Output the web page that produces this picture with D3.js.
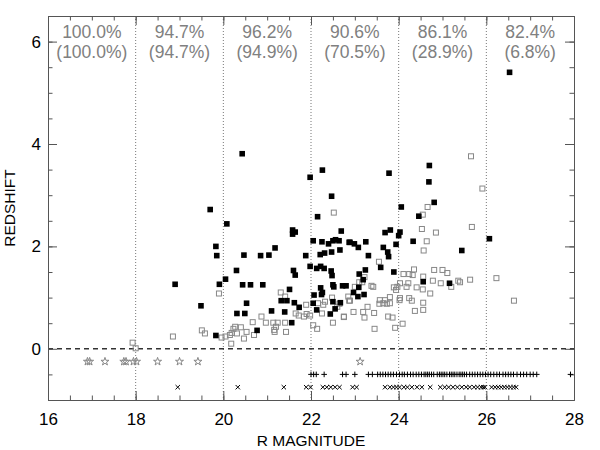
<!DOCTYPE html>
<meta charset="utf-8">
<style>
body { margin: 0; background: #fff; }
svg { font-family: "Liberation Sans", Arial, Helvetica, sans-serif; }
.axis path, .axis line { stroke: #555; }
.axis text { fill: #000; font-size: 17px; }
.pct { fill: #808080; font-size: 17.5px; }
.grid { stroke: #777; stroke-dasharray: 1,2; }
.zero { stroke: #333; stroke-width: 1.5; stroke-dasharray: 5,4; }
.spec { fill: #000; }
.phot { fill: none; stroke: #888; }
.star { fill: none; stroke: #888; }
.plus, .cross { fill: none; stroke: #000; }
</style>
<body>
<svg id="chart" width="600" height="450"></svg>

<script src="https://cdnjs.cloudflare.com/ajax/libs/d3/7.8.5/d3.min.js"></script>
<script>

// bin edges and completeness labels
var bins = [16, 18, 20, 22, 24, 26, 28];
var pctAll = ["100.0%", "94.7%", "96.2%", "90.6%", "86.1%", "82.4%"];
var pctSpec = ["(100.0%)", "(94.7%)", "(94.9%)", "(70.5%)", "(28.9%)", "(6.8%)"];

// spectroscopic redshifts (filled squares)
var specZ = [
  [20.43,3.81],[19.70,2.72],[20.08,2.44],[19.83,2.00],[19.85,1.82],[20.47,1.83],[20.85,1.82],[21.04,1.83],
  [21.18,1.97],[21.58,2.32],[21.64,2.28],[21.58,2.24],[21.88,1.82],[21.98,3.35],[22.26,3.49],[22.47,2.98],
  [22.15,2.58],[22.69,2.30],[22.05,2.11],[22.25,2.09],[22.40,2.05],[22.50,2.11],[22.56,2.13],[22.64,2.11],
  [22.87,2.08],[22.66,1.93],[22.47,1.89],[22.31,1.87],[22.21,1.84],
  [18.90,1.26],[19.91,1.26],[20.05,1.36],[20.30,1.53],[20.44,1.25],[20.62,1.25],[20.90,1.25],[21.60,1.53],
  [21.64,1.44],[21.51,1.16],[21.32,0.94],[21.45,0.94],[21.62,0.90],[21.73,0.81],[20.53,0.89],[20.31,0.69],
  [20.49,0.69],[19.49,0.84],[21.10,0.74],[21.40,0.72],[21.56,0.51],[20.77,0.36],[19.83,0.26],[21.98,1.61],
  [22.13,1.57],[22.22,1.61],[22.30,1.57],[22.46,1.52],[22.48,1.43],[22.22,1.19],[22.26,1.10],[22.24,1.06],
  [22.07,1.05],[22.50,1.25],[22.52,1.21],[22.72,1.23],[22.50,0.92],[22.67,0.90],[22.05,0.89],[22.13,0.76],
  [22.44,0.68],[22.55,0.78],
  [23.78,3.43],[24.70,3.58],[24.69,3.26],[24.81,2.86],[24.06,2.77],[24.46,2.59],[23.81,2.32],[23.69,2.27],
  [24.03,2.28],[24.00,2.21],[23.25,2.09],[22.89,2.08],[22.99,2.05],[23.08,1.98],[23.94,2.04],[24.33,2.10],
  [23.65,1.98],[23.75,1.89],[23.77,1.80],[23.31,1.82],[25.44,1.92],[26.07,2.15],
  [23.59,1.59],[23.89,1.50],[23.24,1.54],[23.10,1.46],[23.19,1.35],[22.80,1.23],[23.09,1.20],[22.97,1.10],
  [23.07,1.02],[23.21,1.06],[24.56,1.31],[25.16,1.28],[26.53,5.40]
];

// photometric redshifts (open squares)
var photZ = [
  [22.52,2.66],[17.93,0.12],[18.00,0.01],
  [18.85,0.24],[19.90,1.08],[19.51,0.36],[19.58,0.30],[19.96,0.22],[20.05,0.24],[20.15,0.27],[20.19,0.31],
  [20.18,0.10],[20.27,0.43],[20.23,0.39],[20.40,0.42],[20.31,0.30],[20.47,0.20],[20.53,0.33],[20.67,0.52],
  [20.70,0.27],[20.87,0.63],[20.97,0.51],[21.14,0.51],[21.16,0.37],[21.20,0.43],[21.17,0.33],[21.24,0.51],
  [21.41,0.51],[21.43,0.33],[21.31,1.10],[21.41,1.02],[21.65,0.69],[21.72,0.65],[21.84,0.63],[21.90,0.68],
  [21.89,0.86],[21.98,0.65],[22.05,0.46],[22.14,0.39],[22.16,0.89],[22.28,0.86],[22.32,0.92],[22.48,1.00],
  [22.60,0.82],[22.65,0.88],[22.75,0.63],[22.50,0.51],[22.25,0.69],[22.87,0.94],
  [25.65,3.76],[25.91,3.13],[24.66,2.77],[24.55,2.62],[24.53,2.34],[24.85,2.27],[24.64,2.10],[24.57,1.92],
  [25.67,2.38],
  [23.55,1.70],[23.22,1.40],[23.17,1.30],[23.10,1.30],[23.00,1.21],[23.38,1.23],[23.42,1.21],[22.85,1.02],
  [22.89,0.94],[22.97,0.72],[22.75,0.62],[23.29,0.82],[23.19,0.72],[23.22,0.61],[23.44,0.70],[23.45,0.39],
  [23.57,0.95],[23.69,0.95],[23.80,1.01],[23.80,0.89],[23.65,0.89],[23.56,0.88],[23.73,0.88],[23.76,0.63],
  [23.86,0.61],[23.92,0.41],[24.09,0.49],[24.02,0.95],[24.03,0.99],[24.24,0.99],[24.30,0.94],[23.89,1.20],
  [23.97,1.21],[24.03,1.28],[24.18,1.21],[24.22,1.28],[23.94,1.15],[24.11,1.46],[24.24,1.46],[24.32,1.44],
  [24.35,1.55],[24.41,1.20],[24.55,1.16],[24.72,1.08],[24.56,1.41],[24.78,1.33],[24.96,1.28],[24.81,1.54],
  [25.00,1.54],[25.11,1.48],[24.56,0.90],[24.56,0.76],[24.37,0.74],[25.20,1.21],[25.36,1.33],[25.40,1.30],
  [25.63,1.35],[26.23,1.38],[26.63,0.94]
];

// objects without redshift, plotted below zero
var starMag = [16.90, 16.95, 17.30, 17.73, 17.78, 17.95, 18.02, 18.50, 19.00, 19.42, 23.12];
var plusMag = [22.00, 22.06, 22.12, 22.30, 22.72, 22.80, 23.00,
  23.31, 23.40, 23.52, 23.58, 23.64, 23.70, 23.76, 23.82, 23.88, 23.95, 24.02, 24.08, 24.13, 24.20,
  24.27, 24.33, 24.40, 24.46, 24.52, 24.58, 24.62, 24.66, 24.70, 24.75, 24.80, 24.88, 24.93, 24.97,
  25.01, 25.05, 25.10, 25.16, 25.20, 25.24, 25.28, 25.33, 25.38, 25.42, 25.46, 25.50, 25.55, 25.62,
  25.68, 25.74, 25.80, 25.86, 25.92, 25.98, 26.04, 26.10, 26.17, 26.24, 26.30, 26.38, 26.44, 26.50,
  26.56, 26.62, 26.70, 26.78, 26.85, 26.92, 27.00, 27.07, 27.15, 27.92];
var crossMag = [18.96, 20.33, 21.38, 21.89, 21.99, 22.27, 22.36, 22.45, 22.55, 22.65, 22.95, 23.04,
  23.69, 23.80, 23.88, 23.95, 24.02, 24.12, 24.20, 24.30, 24.42, 24.53,
  24.72, 24.95, 25.05, 25.14, 25.24, 25.34, 25.44, 25.54, 25.62, 25.72, 25.80, 25.88, 25.93, 25.97,
  26.12, 26.20, 26.27, 26.34, 26.41, 26.48, 26.55, 26.62, 26.68];

var plotL = 48, plotR = 574, plotT = 16, plotB = 400;

var svg = d3.select("#chart");

var x = d3.scaleLinear().domain([16, 28]).range([plotL, plotR]);
var y = d3.scaleLinear().domain([-1, 6.5]).range([plotB, plotT]);

var xMajor = d3.range(16, 28.01, 2), xMinor = d3.range(16, 28.01, 0.5);
var yMajor = d3.range(0, 6.01, 2), yMinor = d3.range(-1, 6.51, 0.5);

// dotted bin separators
svg.selectAll(".grid")
  .data(bins.slice(1, -1))
  .enter().append("line")
    .attr("class", "grid")
    .attr("x1", function(d) { return x(d); })
    .attr("x2", function(d) { return x(d); })
    .attr("y1", plotT)
    .attr("y2", plotB);

// dashed zero line
svg.append("line")
  .attr("class", "zero")
  .attr("x1", plotL).attr("x2", plotR)
  .attr("y1", y(0)).attr("y2", y(0));

// axes: major and minor ticks on all four sides, pointing inwards
function addAxis(axis, tr, vals, size, labels) {
  var a = axis.tickValues(vals).tickSize(-size).tickSizeOuter(0);
  if (!labels) a.tickFormat("");
  var g = svg.append("g").attr("class", "axis").attr("transform", tr).call(a);
  if (!labels) g.selectAll("text").remove();
  return g;
}
addAxis(d3.axisBottom(x).tickPadding(13), "translate(0," + plotB + ")", xMajor, 9, true);
addAxis(d3.axisBottom(x), "translate(0," + plotB + ")", xMinor, 4.5, false);
addAxis(d3.axisTop(x), "translate(0," + plotT + ")", xMajor, 9, false);
addAxis(d3.axisTop(x), "translate(0," + plotT + ")", xMinor, 4.5, false);
addAxis(d3.axisLeft(y).tickPadding(7), "translate(" + plotL + ",0)", yMajor, 9, true);
addAxis(d3.axisLeft(y), "translate(" + plotL + ",0)", yMinor, 4.5, false);
addAxis(d3.axisRight(y), "translate(" + plotR + ",0)", yMajor, 9, false);
addAxis(d3.axisRight(y), "translate(" + plotR + ",0)", yMinor, 4.5, false);

svg.append("text")
  .attr("x", (plotL + plotR) / 2)
  .attr("y", 446)
  .attr("text-anchor", "middle")
  .style("font-size", "15.5px")
  .text("R MAGNITUDE");

svg.append("text")
  .attr("transform", "translate(15," + ((plotT + plotB) / 2) + ") rotate(-90)")
  .attr("text-anchor", "middle")
  .style("font-size", "15.5px")
  .text("REDSHIFT");

// completeness per magnitude bin
var centers = bins.slice(0, -1).map(function(b, i) { return (b + bins[i + 1]) / 2; });

svg.selectAll(".pct-all")
  .data(pctAll)
  .enter().append("text")
    .attr("class", "pct")
    .attr("x", function(d, i) { return x(centers[i]); })
    .attr("y", 37.5)
    .attr("text-anchor", "middle")
    .text(function(d) { return d; });

svg.selectAll(".pct-spec")
  .data(pctSpec)
  .enter().append("text")
    .attr("class", "pct")
    .attr("x", function(d, i) { return x(centers[i]); })
    .attr("y", 58)
    .attr("text-anchor", "middle")
    .text(function(d) { return d; });

// points
var s = 5;
svg.selectAll(".phot")
  .data(photZ)
  .enter().append("rect")
    .attr("class", "phot")
    .attr("x", function(d) { return x(d[0]) - s / 2; })
    .attr("y", function(d) { return y(d[1]) - s / 2; })
    .attr("width", s).attr("height", s);

svg.selectAll(".spec")
  .data(specZ)
  .enter().append("rect")
    .attr("class", "spec")
    .attr("x", function(d) { return x(d[0]) - 2.8; })
    .attr("y", function(d) { return y(d[1]) - 2.8; })
    .attr("width", 5.6).attr("height", 5.6);

var star = d3.symbol().type(d3.symbolStar).size(20);
svg.selectAll(".star")
  .data(starMag)
  .enter().append("path")
    .attr("class", "star")
    .attr("transform", function(d) { return "translate(" + x(d) + "," + y(-0.25) + ")"; })
    .attr("d", star);

svg.selectAll(".plus")
  .data(plusMag)
  .enter().append("path")
    .attr("class", "plus")
    .attr("transform", function(d) { return "translate(" + x(d) + "," + y(-0.5) + ")"; })
    .attr("d", "M-2.8,0H2.8M0,-2.8V2.8");

svg.selectAll(".cross")
  .data(crossMag)
  .enter().append("path")
    .attr("class", "cross")
    .attr("transform", function(d) { return "translate(" + x(d) + "," + y(-0.75) + ")"; })
    .attr("d", "M-2.2,-2.2L2.2,2.2M-2.2,2.2L2.2,-2.2");

</script>
